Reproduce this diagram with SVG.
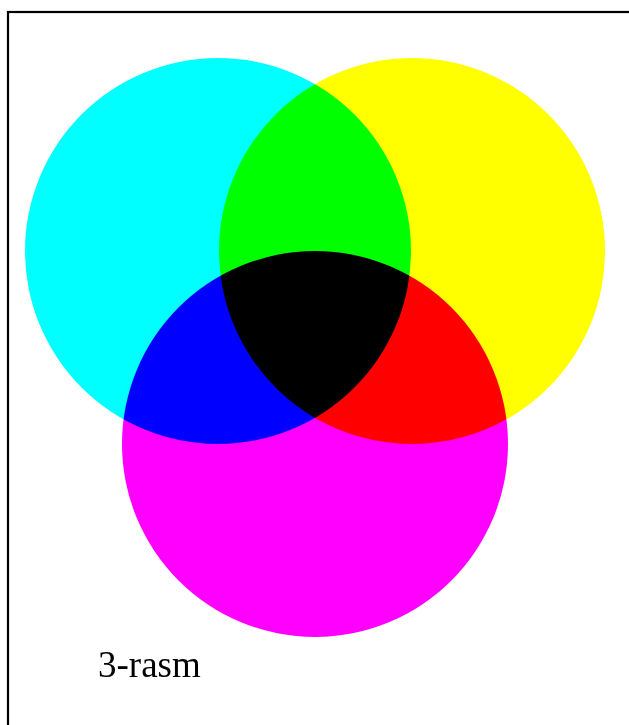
<svg xmlns="http://www.w3.org/2000/svg" width="629" height="725" viewBox="0 0 629 725">
<style>
.c{mix-blend-mode:multiply}
.lbl{font-family:"Liberation Serif","Times New Roman",serif;font-size:37px;fill:#000}
</style>
<rect x="0" y="0" width="629" height="725" fill="#fff"/>
<rect x="8" y="12" width="700" height="800" fill="none" stroke="#000" stroke-width="2.2"/>
<g style="isolation:isolate">
<g id="cyan" class="c"><circle cx="218" cy="251" r="193" fill="#00ffff"/></g>
<g id="yellow" class="c"><circle cx="412" cy="251" r="193" fill="#ffff00"/></g>
<g id="magenta" class="c"><circle cx="315" cy="444" r="193" fill="#ff00ff"/></g>
</g>
<g id="connectors"></g>
<g id="caption"><text class="lbl" x="98" y="677">3-rasm</text></g>
</svg>
